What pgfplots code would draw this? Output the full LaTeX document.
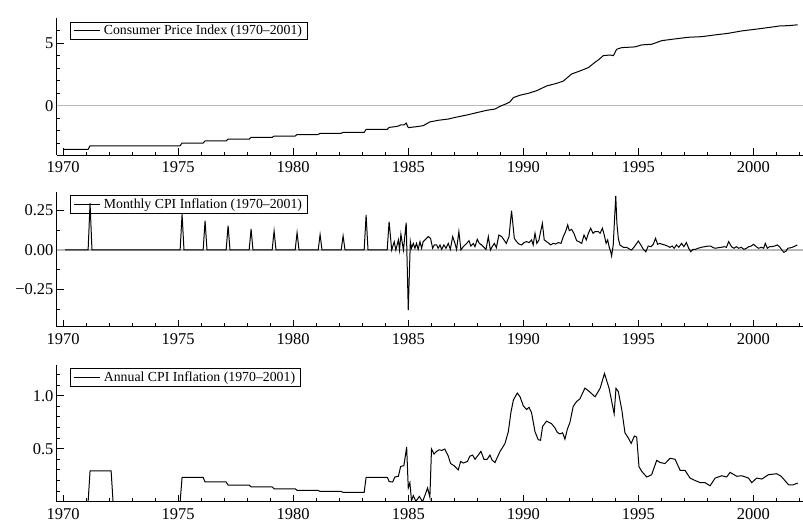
\documentclass[border=0pt]{standalone}
\usepackage{fontspec}
\setmainfont{Liberation Serif}
\usepackage{pgfplots}
\pgfplotsset{compat=1.18}
\pgfplotsset{
  myax/.style={
    scale only axis, width=746pt,
    xmin=1969.73, xmax=2002.16,
    axis x line*=bottom, axis y line*=left,
    axis line style={-, line width=1pt},
    tick align=inside, major tick length=7pt, minor tick length=3.5pt,
    tick style={black, line width=0.9pt},
    xtick={1970,1975,...,2000},
    xticklabels={1970,1975,1980,1985,1990,1995,2000},
    minor xtick={1971,...,2002},
    ticklabel style={font=\fontsize{16.5}{18}\selectfont},
    xticklabel style={yshift=-3pt},
    legend style={at={(axis description cs:0,1)}, anchor=north west,
      xshift=13pt, yshift=-3.4pt, draw=black, fill=none, line width=0.7pt,
      inner xsep=3pt, inner ysep=1.2pt,
      font=\fontsize{13.8}{14.5}\selectfont,
      /tikz/every odd column/.append style={column sep=1.5pt}},
    legend cell align=left,
    legend image code/.code={\draw[#1, line width=1pt] (0pt,0pt) -- (26pt,0pt);},
  }
}
\begin{document}
\begin{tikzpicture}
\path[use as bounding box] (0,0) rectangle (803pt,-520pt);

% Panel 1
\begin{axis}[myax, at={(57pt,-155pt)}, anchor=south west, height=136.7pt,
  ymin=-3.95, ymax=7.0, ytick={0,5}, yticklabels={0,5},
  minor ytick={-3,-2,-1,1,2,3,4,6}]
\addplot[gray!55, line width=1.4pt, forget plot] coordinates {(1969.73,0) (2002.16,0)};
\addplot[black, line width=1pt] coordinates {
(1970.0,-3.50) (1971.083,-3.50) (1971.167,-3.21) (1975.083,-3.21) (1975.167,-2.99)
(1976.083,-2.99) (1976.167,-2.82) (1977.083,-2.82) (1977.167,-2.68) (1978.083,-2.68)
(1978.167,-2.54) (1979.083,-2.54) (1979.167,-2.43) (1980.083,-2.43) (1980.167,-2.31)
(1981.083,-2.31) (1981.167,-2.21) (1982.083,-2.21) (1982.167,-2.13) (1983.083,-2.13)
(1983.167,-1.90) (1984.083,-1.90) (1984.167,-1.74) (1984.39,-1.69) (1984.57,-1.63)
(1984.68,-1.53) (1984.83,-1.53) (1984.91,-1.39) (1985.0,-1.76) (1985.36,-1.68)
(1985.65,-1.60) (1985.94,-1.30) (1986.30,-1.17) (1986.74,-1.07) (1987.03,-0.94)
(1987.54,-0.75) (1987.97,-0.56) (1988.41,-0.37) (1988.77,-0.27) (1988.99,-0.05)
(1989.28,0.17) (1989.42,0.30) (1989.57,0.65) (1989.86,0.84) (1990.22,0.99)
(1990.58,1.20) (1990.80,1.39) (1991.01,1.58) (1991.45,1.79) (1991.74,1.97)
(1992.10,2.54) (1992.46,2.78) (1992.83,3.05) (1993.12,3.48) (1993.26,3.66)
(1993.48,4.01) (1993.77,4.06) (1993.92,4.01) (1994.06,4.52) (1994.28,4.65)
(1994.86,4.71) (1995.15,4.87) (1995.58,4.92) (1996.02,5.21) (1996.60,5.35)
(1997.18,5.48) (1997.76,5.53) (1998.34,5.67) (1998.92,5.80) (1999.50,5.99)
(2000.08,6.12) (2000.66,6.26) (2001.16,6.39) (2001.53,6.41) (2001.93,6.48)
};
\addlegendentry{Consumer Price Index (1970--2001)}
\end{axis}

% Panel 2
\begin{axis}[myax, at={(57pt,-326.7pt)}, anchor=south west, height=135pt,
  ymin=-0.487, ymax=0.37, ytick={-0.25,0,0.25}, yticklabels={−0.25,0.00,0.25},
  minor ytick={-0.375,-0.125,0.125}]
\addplot[gray!55, line width=1.4pt, forget plot] coordinates {(1969.73,0) (2002.16,0)};
\addplot[black, line width=1pt] coordinates {
(1970.083,0) (1971.083,0) (1971.167,0.297) (1971.25,0)
(1975.083,0) (1975.167,0.227) (1975.25,0)
(1976.083,0) (1976.167,0.186) (1976.25,0)
(1977.083,0) (1977.167,0.155) (1977.25,0)
(1978.083,0) (1978.167,0.133) (1978.25,0)
(1979.083,0) (1979.167,0.121) (1979.25,0)
(1980.083,0) (1980.167,0.110) (1980.25,0)
(1981.083,0) (1981.167,0.097) (1981.25,0)
(1982.083,0) (1982.167,0.089) (1982.25,0)
(1983.083,0) (1983.167,0.222) (1983.25,0)
(1984.083,0) (1984.167,0.180) (1984.28,0)
(1984.39,0.053) (1984.46,0) (1984.57,0.064) (1984.62,0) (1984.68,0.100) (1984.79,0)
(1984.91,0.174) (1985.00,-0.381) (1985.09,0.053) (1985.14,0.011) (1985.22,0.042)
(1985.29,0.011) (1985.36,0.042) (1985.43,0.004) (1985.51,0.053) (1985.58,0.011)
(1985.65,0.053) (1985.75,0.068) (1985.87,0.085) (1985.97,0.074) (1986.06,0.011)
(1986.13,0.032) (1986.23,0.032) (1986.30,0.011) (1986.38,0.032) (1986.45,0.004)
(1986.55,0.032) (1986.64,0.011) (1986.74,0.042) (1986.83,0.004) (1986.93,0.085)
(1987.03,0.042) (1987.10,0.004) (1987.20,0.117) (1987.29,0) (1987.39,0.021)
(1987.54,0.042) (1987.64,0.059) (1987.72,0.025) (1987.83,0.042) (1987.90,0.021)
(1988.00,0.068) (1988.09,0.042) (1988.19,0.032) (1988.29,0.017) (1988.38,0.004)
(1988.48,0.085) (1988.57,0) (1988.65,0.021) (1988.74,0.042) (1988.83,0.015)
(1988.94,0.095) (1989.06,0.085) (1989.16,0.064) (1989.26,0.042) (1989.38,0.085)
(1989.49,0.250) (1989.61,0.074) (1989.71,0.053) (1989.81,0.038) (1989.93,0.032)
(1990.03,0.047) (1990.14,0.053) (1990.25,0.047) (1990.36,0.064) (1990.43,0.032)
(1990.51,0.106) (1990.59,0.042) (1990.68,0.064) (1990.83,0.169) (1990.91,0.064)
(1991.01,0.053) (1991.12,0.042) (1991.19,0.032) (1991.30,0.042) (1991.41,0.038)
(1991.52,0.047) (1991.64,0.042) (1991.74,0.085) (1991.84,0.117) (1991.93,0.159)
(1992.00,0.123) (1992.10,0.131) (1992.20,0.106) (1992.32,0.059) (1992.42,0.053)
(1992.54,0.042) (1992.64,0.095) (1992.74,0.064) (1992.83,0.106) (1992.93,0.138)
(1993.03,0.106) (1993.12,0.117) (1993.26,0.117) (1993.34,0.106) (1993.44,0.138)
(1993.52,0.095) (1993.60,0.042) (1993.67,0.064) (1993.73,0.021) (1993.80,-0.011)
(1993.84,-0.038) (1993.91,0.032) (1994.02,0.343) (1994.07,0.169) (1994.13,0.074)
(1994.20,0.032) (1994.35,0.017) (1994.49,0.017) (1994.64,0.004) (1994.71,0)
(1994.85,0.025) (1995.00,0.057) (1995.11,0.032) (1995.22,0.004) (1995.33,-0.011)
(1995.43,0.025) (1995.55,0.021) (1995.65,0.036) (1995.75,0.074) (1995.84,0.036)
(1995.94,0.042) (1996.04,0.036) (1996.15,0.032) (1996.27,0.025) (1996.37,0.017)
(1996.47,0.025) (1996.56,0.011) (1996.66,0.032) (1996.76,0.017) (1996.88,0.042)
(1996.98,0.021) (1997.09,0.047) (1997.19,0.011) (1997.28,-0.011) (1997.38,0.004)
(1997.48,0.004) (1997.60,0.011) (1997.74,0.017) (1997.89,0.021) (1998.03,0.025)
(1998.15,0.025) (1998.25,0.015) (1998.35,0.011) (1998.50,0.015) (1998.61,0.017)
(1998.73,0.021) (1998.83,0.017) (1998.93,0.053) (1999.05,0.021) (1999.16,0.011)
(1999.26,0.021) (1999.36,0.011) (1999.48,0.017) (1999.59,0.004) (1999.70,0.011)
(1999.80,0.021) (1999.91,0.025) (2000.01,0.036) (2000.13,0.021) (2000.23,0.011)
(2000.35,0.017) (2000.45,0.011) (2000.52,0.042) (2000.61,0.011) (2000.71,0.021)
(2000.81,0.021) (2000.92,0.025) (2001.04,0.032) (2001.14,0.021) (2001.24,0)
(2001.33,-0.015) (2001.43,-0.006) (2001.50,0.011) (2001.65,0.015) (2001.76,0.021)
(2001.91,0.032)
};
\addlegendentry{Monthly CPI Inflation (1970--2001)}
\end{axis}

% Panel 3
\begin{axis}[myax, at={(57pt,-501.7pt)}, anchor=south west, height=136.7pt,
  ymin=0.0, ymax=1.29, ytick={0.5,1.0}, yticklabels={0.5,1.0},
  minor ytick={0.1,0.2,0.3,0.4,0.6,0.7,0.8,0.9,1.1,1.2}]
\addplot[black, line width=1pt] coordinates {
(1971.0,0) (1971.083,0) (1971.167,0.29) (1972.083,0.29) (1972.167,0)
(1975.083,0) (1975.167,0.23) (1976.083,0.23) (1976.167,0.186) (1977.083,0.186)
(1977.167,0.157) (1978.083,0.157) (1978.167,0.14) (1979.083,0.14) (1979.167,0.122)
(1980.083,0.122) (1980.167,0.107) (1981.083,0.107) (1981.167,0.097) (1982.083,0.097)
(1982.167,0.088) (1983.083,0.088) (1983.167,0.23) (1984.09,0.23)
(1984.17,0.19) (1984.32,0.186) (1984.42,0.233) (1984.57,0.24) (1984.67,0.333)
(1984.81,0.34) (1984.93,0.516) (1985.00,0.13) (1985.07,0.18) (1985.14,0.01)
(1985.22,0.057) (1985.33,0.003) (1985.48,0.05) (1985.62,0) (1985.72,0.057)
(1985.84,0.13) (1985.94,0.044) (1986.01,0.497) (1986.12,0.45) (1986.23,0.475)
(1986.35,0.49) (1986.46,0.484) (1986.59,0.497) (1986.74,0.43) (1986.84,0.36)
(1986.99,0.34) (1987.17,0.30) (1987.28,0.38) (1987.39,0.365) (1987.57,0.38)
(1987.68,0.43) (1987.80,0.44) (1987.90,0.40) (1988.04,0.44) (1988.16,0.475)
(1988.29,0.40) (1988.43,0.40) (1988.55,0.44) (1988.65,0.39) (1988.77,0.37)
(1988.99,0.475) (1989.20,0.547) (1989.35,0.66) (1989.46,0.84) (1989.57,0.96)
(1989.74,1.025) (1989.86,0.99) (1990.00,0.905) (1990.14,0.87) (1990.25,0.89)
(1990.36,0.84) (1990.51,0.66) (1990.65,0.585) (1990.75,0.58) (1990.84,0.71)
(1991.01,0.76) (1991.23,0.736) (1991.38,0.695) (1991.48,0.654) (1991.59,0.64)
(1991.71,0.65) (1991.81,0.59) (1991.91,0.68) (1992.03,0.75) (1992.17,0.90)
(1992.32,0.946) (1992.46,0.97) (1992.68,1.072) (1992.87,1.04) (1993.12,0.99)
(1993.34,1.07) (1993.53,1.21) (1993.73,1.07) (1993.95,0.83) (1994.03,1.07)
(1994.13,1.04) (1994.28,0.87) (1994.42,0.65) (1994.57,0.60) (1994.69,0.55)
(1994.83,0.62) (1994.93,0.61) (1995.03,0.33) (1995.15,0.286) (1995.37,0.233)
(1995.58,0.255) (1995.80,0.39) (1995.95,0.37) (1996.16,0.36) (1996.38,0.41)
(1996.60,0.40) (1996.82,0.296) (1997.03,0.296) (1997.25,0.223) (1997.47,0.20)
(1997.69,0.18) (1997.90,0.18) (1998.12,0.15) (1998.34,0.223) (1998.63,0.245)
(1998.84,0.233) (1998.99,0.277) (1999.28,0.24) (1999.50,0.245) (1999.79,0.223)
(1999.93,0.18) (2000.15,0.223) (2000.37,0.214) (2000.66,0.255) (2001.02,0.264)
(2001.21,0.24) (2001.53,0.16) (2001.74,0.16) (2001.93,0.176)
};
\addlegendentry{Annual CPI Inflation (1970--2001)}
\end{axis}
\end{tikzpicture}
\end{document}
